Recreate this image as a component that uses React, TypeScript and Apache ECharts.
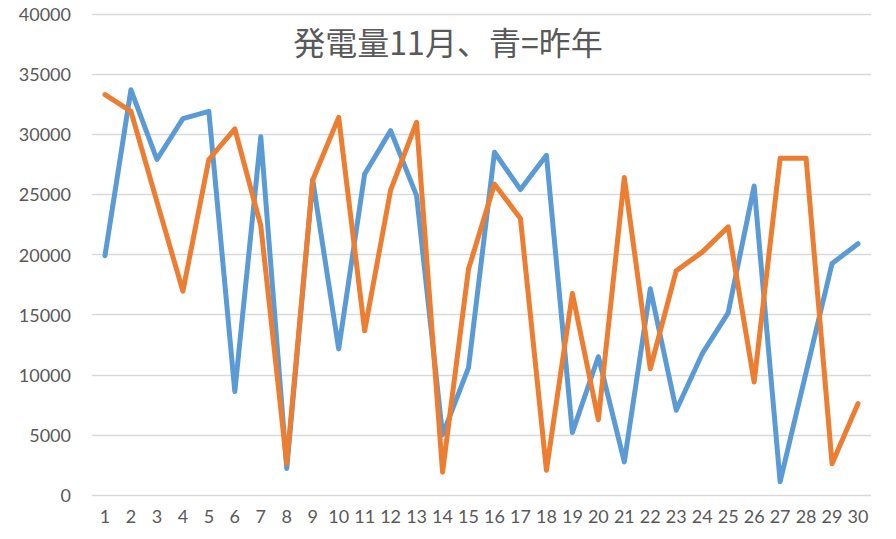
import React, { useEffect, useRef } from "react";
import * as echarts from "echarts";

const days = Array.from({ length: 30 }, (_, i) => String(i + 1));
const lastYear = [
  19900, 33700, 27900, 31300, 31900, 8600, 29800, 2200, 26200, 12150,
  26700, 30300, 24900, 5000, 10600, 28500, 25400, 28250, 5200, 11500,
  2750, 17150, 7050, 11750, 15150, 25700, 1100, 10200, 19250, 20900,
];
const thisYear = [
  33300, 31900, 24400, 16950, 27900, 30450, 22400, 2600, 26200, 31400,
  13650, 25350, 31000, 1900, 18800, 25850, 23000, 2050, 16750, 6250,
  26400, 10500, 18650, 20200, 22300, 9400, 28000, 28000, 2600, 7600,
];
const titleText = "発電量11月、青=昨年";

export default function App() {
  const ref = useRef<HTMLDivElement>(null);
  useEffect(() => {
    document.body.style.margin = "0";
    const chart = echarts.init(ref.current!, undefined, { renderer: "svg" });
    const font = "Lato, 'Noto Sans', sans-serif";
    chart.setOption({
      animation: false,
      backgroundColor: "#ffffff",
      title: {
        text: titleText,
        left: "center",
        top: 20,
        textStyle: {
          fontFamily: "'Noto Sans CJK JP', sans-serif",
          fontSize: 32,
          fontWeight: "normal",
          color: "#595959",
        },
      },
      grid: { left: 92, right: 25, top: 14, bottom: 44 },
      xAxis: {
        type: "category",
        data: days,
        boundaryGap: true,
        axisLine: { show: false },
        axisTick: { show: false },
        axisLabel: {
          color: "#595959",
          fontSize: 18,
          fontFamily: font,
          margin: 12,
          interval: 0,
        },
      },
      yAxis: {
        type: "value",
        min: 0,
        max: 40000,
        interval: 5000,
        axisLine: { show: false },
        axisTick: { show: false },
        axisLabel: {
          color: "#595959",
          fontSize: 18,
          fontFamily: font,
          margin: 21,
          formatter: (v: number) => String(v),
        },
        splitLine: { lineStyle: { color: "#d9d9d9", width: 1.3 } },
      },
      series: [
        {
          name: "昨年",
          type: "line",
          data: lastYear,
          symbol: "none",
          lineStyle: { color: "#5b9bd5", width: 5, cap: "round", join: "round" },
          itemStyle: { color: "#5b9bd5" },
        },
        {
          name: "今年",
          type: "line",
          data: thisYear,
          symbol: "none",
          lineStyle: { color: "#ed7d31", width: 5, cap: "round", join: "round" },
          itemStyle: { color: "#ed7d31" },
        },
      ],
    });
    return () => chart.dispose();
  }, []);
  return <div ref={ref} style={{ width: 896, height: 539 }} />;
}
